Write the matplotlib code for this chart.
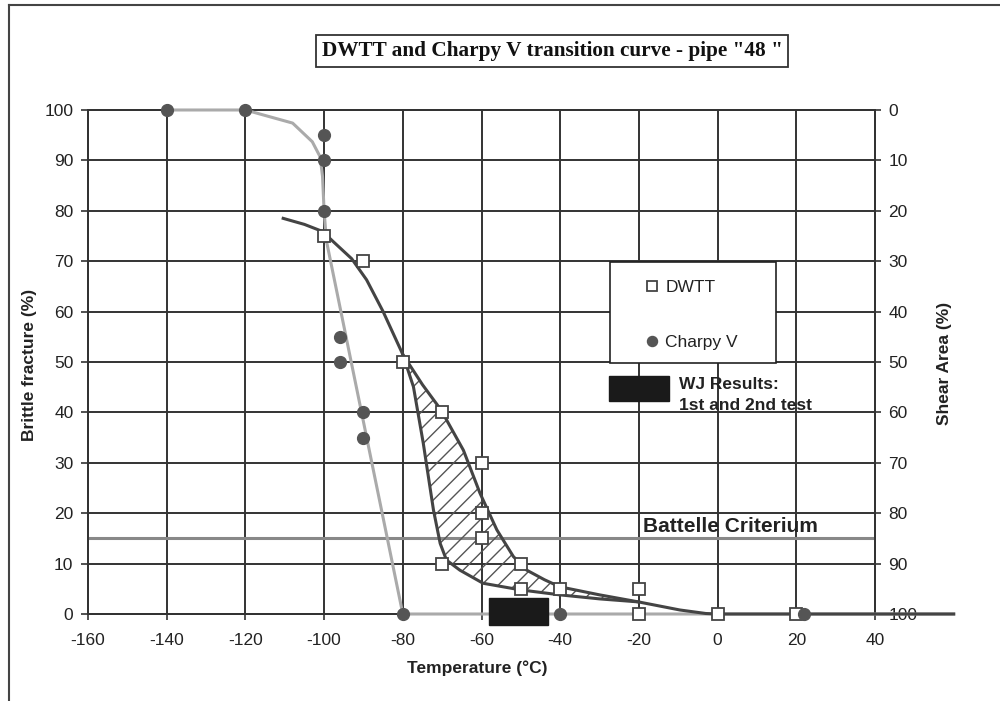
import matplotlib.pyplot as plt
from matplotlib.patches import Rectangle, Polygon
from matplotlib.lines import Line2D

plt.rcParams['font.family'] = ['Liberation Sans', 'DejaVu Sans']
plt.rcParams['axes.unicode_minus'] = False

# ---------------------------------
# data
# ---------------------------------
charpy_temp = [-140, -120, -100, -100, -100, -96, -96, -90, -90, -80, -40, 22]
charpy_brittle = [100, 100, 95, 90, 80, 55, 50, 40, 35, 0, 0, 0]

charpy_curve_temp = [-140, -120, -108, -103, -101, -100.4, -100, -99.4, -80, 60]
charpy_curve_brittle = [100, 100, 97.4, 93.7, 90.7, 86.8, 80, 74, 0, 0]

dwtt_temp = [-100, -90, -80, -70, -60, -60, -60, -70, -50, -50, -40, -20, -20, 0, 20]
dwtt_brittle = [75, 70, 50, 40, 30, 20, 15, 10, 10, 5, 5, 5, 0, 0, 0]

# upper DWTT band / main curve
dwtt_up_temp = [-110.4, -105, -100.4, -97.7, -93, -89.2, -85, -80, -75, -70.3,
                -64.6, -60.4, -56.1, -51.9, -48.5, -44, -40.1, -30, -20.1,
                -9.6, -3, 0, 60]
dwtt_up_brittle = [78.5, 77.3, 75.9, 73.9, 70.5, 66.3, 60, 51.5, 45.5, 40.5,
                   32.5, 24, 16.7, 11.4, 8.7, 6.8, 5.4, 3.8, 2.4,
                   0.8, 0.1, 0, 0]
# lower DWTT band
dwtt_low_temp = [-80, -77.3, -74.8, -72.2, -70.5, -68.9, -65.5, -59.6, -50.2,
                 -40.1, -30, -20.1]
dwtt_low_brittle = [51.5, 45.1, 33.9, 20.6, 14, 10.7, 8.7, 6.1, 4.8,
                    3.8, 3.0, 2.4]

battelle = 15
wj_temp = (-58, -43)
wj_brittle = (-2.2, 3.2)

x_ticks = list(range(-160, 41, 20))
y_ticks = list(range(0, 101, 10))

GRID = '#333333'

fig = plt.figure(figsize=(10, 7.01), dpi=100)
ax = fig.add_axes([0.088, 0.1241, 0.787, 0.719])
ax2 = ax.twinx()
ax.set_zorder(2)
ax2.set_zorder(1)
ax.patch.set_visible(False)

ax.set_xlim(-160, 40)
ax.set_ylim(0, 100)
ax2.set_ylim(100, 0)
ax.set_xticks(x_ticks)
ax.set_yticks(y_ticks)
ax2.set_yticks(y_ticks)
ax.grid(True, color=GRID, lw=1.4, zorder=0)
ax.set_axisbelow(True)

for a in (ax, ax2):
    for s in a.spines.values():
        s.set_color(GRID)
        s.set_linewidth(1.4)
ax.tick_params(axis='y', length=5, width=1.2, color=GRID, pad=5.5,
               labelsize=12.5, labelcolor='#222')
ax.tick_params(axis='x', length=4, width=1.2, color=GRID, pad=10,
               labelsize=12.5, labelcolor='#222')
ax2.tick_params(axis='y', length=4, width=1.2, color=GRID, pad=5.5,
                labelsize=12.5, labelcolor='#222')

# battelle criterium
ax.axhline(battelle, color='#888888', lw=2.2, zorder=2)
ax.text(-19, battelle + 1.2, 'Battelle Criterium', fontsize=15,
        fontweight='bold', color='#222', ha='left', va='baseline', zorder=3)

# hatched band between the two DWTT curves
band = list(zip(dwtt_up_temp[7:19], dwtt_up_brittle[7:19])) + \
    list(zip(dwtt_low_temp[::-1], dwtt_low_brittle[::-1]))
ax.add_patch(Polygon(band, closed=True, fill=False, hatch='//',
                     edgecolor='#555555', lw=0, zorder=3))

# curves
ax.plot(charpy_curve_temp, charpy_curve_brittle, color='#aaaaaa', lw=2.2,
        zorder=4, clip_on=False)
ax.plot(dwtt_up_temp, dwtt_up_brittle, color='#444444', lw=2.2,
        zorder=5, clip_on=False)
ax.plot(dwtt_low_temp, dwtt_low_brittle, color='#444444', lw=2.2, zorder=5)

# points
dw, = ax.plot(dwtt_temp, dwtt_brittle, ls='none', marker='s', ms=8.5,
              mfc='white', mec='#444444', mew=1.3, zorder=6, clip_on=False,
              label='DWTT')
ch, = ax.plot(charpy_temp, charpy_brittle, ls='none', marker='o', ms=8.5,
              color='#555555', zorder=7, clip_on=False, label='Charpy V')

# WJ results
ax.add_patch(Rectangle((wj_temp[0], wj_brittle[0]), wj_temp[1] - wj_temp[0],
                       wj_brittle[1] - wj_brittle[0], fc='#1a1a1a',
                       ec='#1a1a1a', zorder=8, clip_on=False))

# legend box
ax.add_patch(Rectangle((-27.3, 49.8), 42.1, 20.1, fc='white', ec='#222',
                       lw=1.2, zorder=9))
leg = ax.legend(handles=[dw, ch], loc='upper left',
                bbox_to_anchor=(-19.0, 66.2), bbox_transform=ax.transData,
                frameon=False, borderpad=0, borderaxespad=0, handlelength=1.0,
                handletextpad=0.3, labelspacing=2.25, fontsize=12.5,
                markerscale=0.85)
leg.set_zorder(10)
for t in leg.get_texts():
    t.set_color('#222')

ax.add_patch(Rectangle((-27.5, 42.3), 15.2, 4.9, fc='#1a1a1a', ec='#1a1a1a',
                       zorder=9))
ax.text(-9.8, 40.5, 'WJ Results:\n1st and 2nd test', fontsize=12.5,
        fontweight='bold', color='#222', ha='left', va='baseline',
        linespacing=1.5, zorder=10)

# labels
fig.text(0.030, 1 - 365 / 701, 'Brittle fracture (%)', rotation=90,
         ha='center', va='center', fontsize=12.5, fontweight='bold',
         color='#222')
fig.text(0.945, 1 - 363 / 701, 'Shear Area (%)', rotation=90,
         ha='center', va='center', fontsize=12.5, fontweight='bold',
         color='#222')
fig.text(0.477, 1 - 668 / 701, 'Temperature (°C)', ha='center', va='center',
         fontsize=12.5, fontweight='bold', color='#222')

fig.text(0.552, 1 - 51 / 701, 'DWTT and Charpy V transition curve - pipe "48 "',
         family=['Liberation Serif', 'DejaVu Serif'], fontweight='bold',
         fontsize=15.3, ha='center', va='center', color='#111',
         bbox=dict(boxstyle='square,pad=0.28', fc='white', ec='#333', lw=1.3))

# outer frame
fig.add_artist(Line2D([0.009, 1.0], [1 - 5 / 701] * 2, color='#444',
                      lw=1.5, transform=fig.transFigure))
fig.add_artist(Line2D([0.009, 0.009], [0, 1 - 5 / 701], color='#444',
                      lw=1.5, transform=fig.transFigure))

fig.savefig('out.png', dpi=100)
